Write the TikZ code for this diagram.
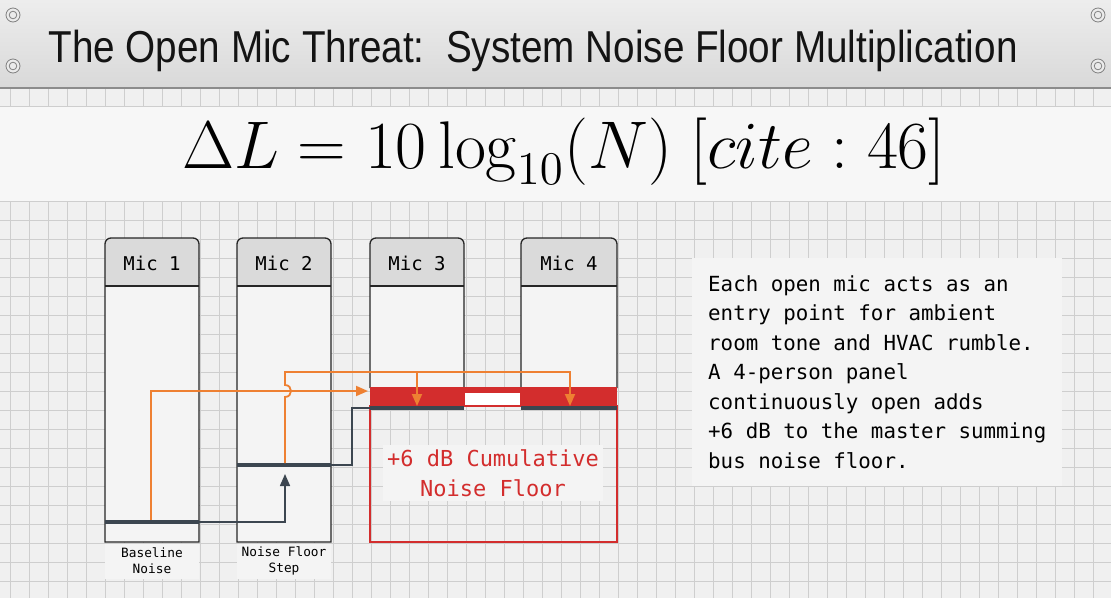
\documentclass[tikz,border=0pt]{standalone}
\usepackage{fontspec}
\usepackage{amsmath}
\usetikzlibrary{arrows.meta}

\newfontfamily\titlefont[FakeStretch=0.865]{Liberation Sans}
\newfontfamily\monofont{DejaVu Sans Mono}

\definecolor{micred}{RGB}{211,45,45}
\definecolor{micorange}{RGB}{238,128,50}
\definecolor{floorgrey}{RGB}{60,70,80}
\definecolor{paper}{RGB}{240,240,240}
\definecolor{gridgrey}{RGB}{206,206,206}
\definecolor{headgrey}{RGB}{218,218,218}
\definecolor{bodygrey}{RGB}{244,244,244}

\begin{document}
\begin{tikzpicture}[x=1pt, y=-1pt,
  gridline/.style={draw=gridgrey, line width=0.7pt},
  screw/.style={draw=black!50, line width=0.8pt},
  micframe/.style={draw=black!85, line width=1.3pt},
  miclabel/.style={font=\monofont\fontsize{19}{22}\selectfont},
  floorline/.style={draw=floorgrey, line width=4.5pt},
  feed/.style={draw=micorange, line width=1.8pt},
  feedtip/.style={feed, -{Triangle[length=12pt, width=10pt]}},
  steplink/.style={draw=floorgrey, line width=1.6pt},
  steptip/.style={steplink, -{Triangle[length=12pt, width=10pt]}},
  caption/.style={font=\monofont\fontsize{12.8}{16}\selectfont, align=center, fill=bodygrey, minimum width=94pt, minimum height=35pt, inner sep=0pt},
  notebox/.style={fill=bodygrey, anchor=north west, align=left, inner xsep=16pt, inner ysep=12pt, minimum width=359pt, minimum height=228pt, font=\monofont\fontsize{20.8}{29.5}\selectfont}
]
\useasboundingbox (0,0) rectangle (1111,598);
\fill[paper] (0,0) rectangle (1111,598);
% grid
\foreach \x in {10,29,...,1111} \draw[gridline] (\x,88) -- (\x,598);
\foreach \y in {106,125,...,598} \draw[gridline] (0,\y) -- (1111,\y);

% header plate
\shade[top color=black!7, bottom color=black!15] (0,0) rectangle (1111,88);
\draw[black!45, line width=1.5pt] (0,88) -- (1111,88);
\foreach \p in {(13,15),(13,66),(1098,15),(1098,66)} {
  \draw[screw, fill=black!8] \p circle[radius=7];
  \draw[screw] \p circle[radius=3.8];
}
\node[anchor=base west, font=\titlefont\fontsize{44.7}{50}\selectfont, text=black!92] (title) at (45,62) {The Open Mic Threat:\ \ System Noise Floor Multiplication};

% formula band
\fill[black!3] (0,107) rectangle (1111,201);
\node[anchor=base, font=\huge, scale=3.25] (formula) at (564,168) {$\Delta L = 10\log_{10}(N)\;[cite:46]$};

% mic strips
\fill[bodygrey] (105,286) rectangle (199,542);
\fill[bodygrey] (237,286) rectangle (331,542);
\fill[bodygrey] (370,286) rectangle (464,388);
\fill[bodygrey] (521,286) rectangle (617,388);
\fill[headgrey] (105,286) [rounded corners=6pt] -- (105,238) -- (199,238) [sharp corners] -- (199,286) -- cycle;
\fill[headgrey] (237,286) [rounded corners=6pt] -- (237,238) -- (331,238) [sharp corners] -- (331,286) -- cycle;
\fill[headgrey] (370,286) [rounded corners=6pt] -- (370,238) -- (464,238) [sharp corners] -- (464,286) -- cycle;
\fill[headgrey] (521,286) [rounded corners=6pt] -- (521,238) -- (617,238) [sharp corners] -- (617,286) -- cycle;
\draw[micframe] (105,542) [rounded corners=6pt] -- (105,238) -- (199,238) [sharp corners] -- (199,542) -- cycle;
\draw[micframe] (237,542) [rounded corners=6pt] -- (237,238) -- (331,238) [sharp corners] -- (331,542) -- cycle;
\draw[micframe] (370,388) [rounded corners=6pt] -- (370,238) -- (464,238) [sharp corners] -- (464,388);
\draw[micframe] (521,388) [rounded corners=6pt] -- (521,238) -- (617,238) [sharp corners] -- (617,388);
\draw[micframe] (105,286) -- (199,286) (237,286) -- (331,286) (370,286) -- (464,286) (521,286) -- (617,286);

\node[miclabel] (mic1) at (152,263) {Mic 1};
\node[miclabel] (mic2) at (284,263) {Mic 2};
\node[miclabel] (mic3) at (417,263) {Mic 3};
\node[miclabel] (mic4) at (569,263) {Mic 4};

% summing bus
\fill[micred] (370,387) rectangle (617,406);
\fill[white] (465,393) rectangle (520,406);
\draw[micred, line width=2.5pt] (370,406) rectangle (617,542);
\draw[floorline, line width=4pt] (370,408) -- (464,408) (521,408) -- (617,408);
\node[font=\monofont\fontsize{22}{30}\selectfont, text=micred, align=center, fill=bodygrey, inner sep=4pt] (sum) at (493,473) {+6 dB Cumulative\\Noise Floor};

% noise floors
\draw[floorline] (105,522) -- (199,522);
\draw[floorline] (237,465) -- (331,465);
\coordinate (f1) at (151,520);
\coordinate (f1r) at (199,522);
\coordinate (f2) at (285,463);
\coordinate (f2r) at (331,465);
\coordinate (f2in) at (285,474);
\coordinate (busin) at (368,391);
\coordinate (split) at (417,372);
\coordinate (bus3) at (417,406);
\coordinate (bus4) at (570,406);
\coordinate (busfl) at (370,408);

% feeds
\draw[steptip] (f1r) -| (f2in);
\draw[steplink] (f2r) -- (352,465) |- (busfl);
\draw[feedtip] (f1) |- (busin);
\draw[feedtip] (f2) -- (285,397) .. controls (293,397) and (293,385) .. (285,385) -- (285,372) -| (bus4);
\draw[feedtip] (split) -- (bus3);

% captions
\node[caption] (cap1) at (152,561) {Baseline\\Noise};
\node[caption] (cap2) at (284,561) {Noise Floor\\Step};

% note
\node[notebox] (note) at (692,258) {Each open mic acts as an\\entry point for ambient\\room tone and HVAC rumble.\\A 4-person panel\\continuously open adds\\+6 dB to the master summing\\bus noise floor.};
\end{tikzpicture}
\end{document}
